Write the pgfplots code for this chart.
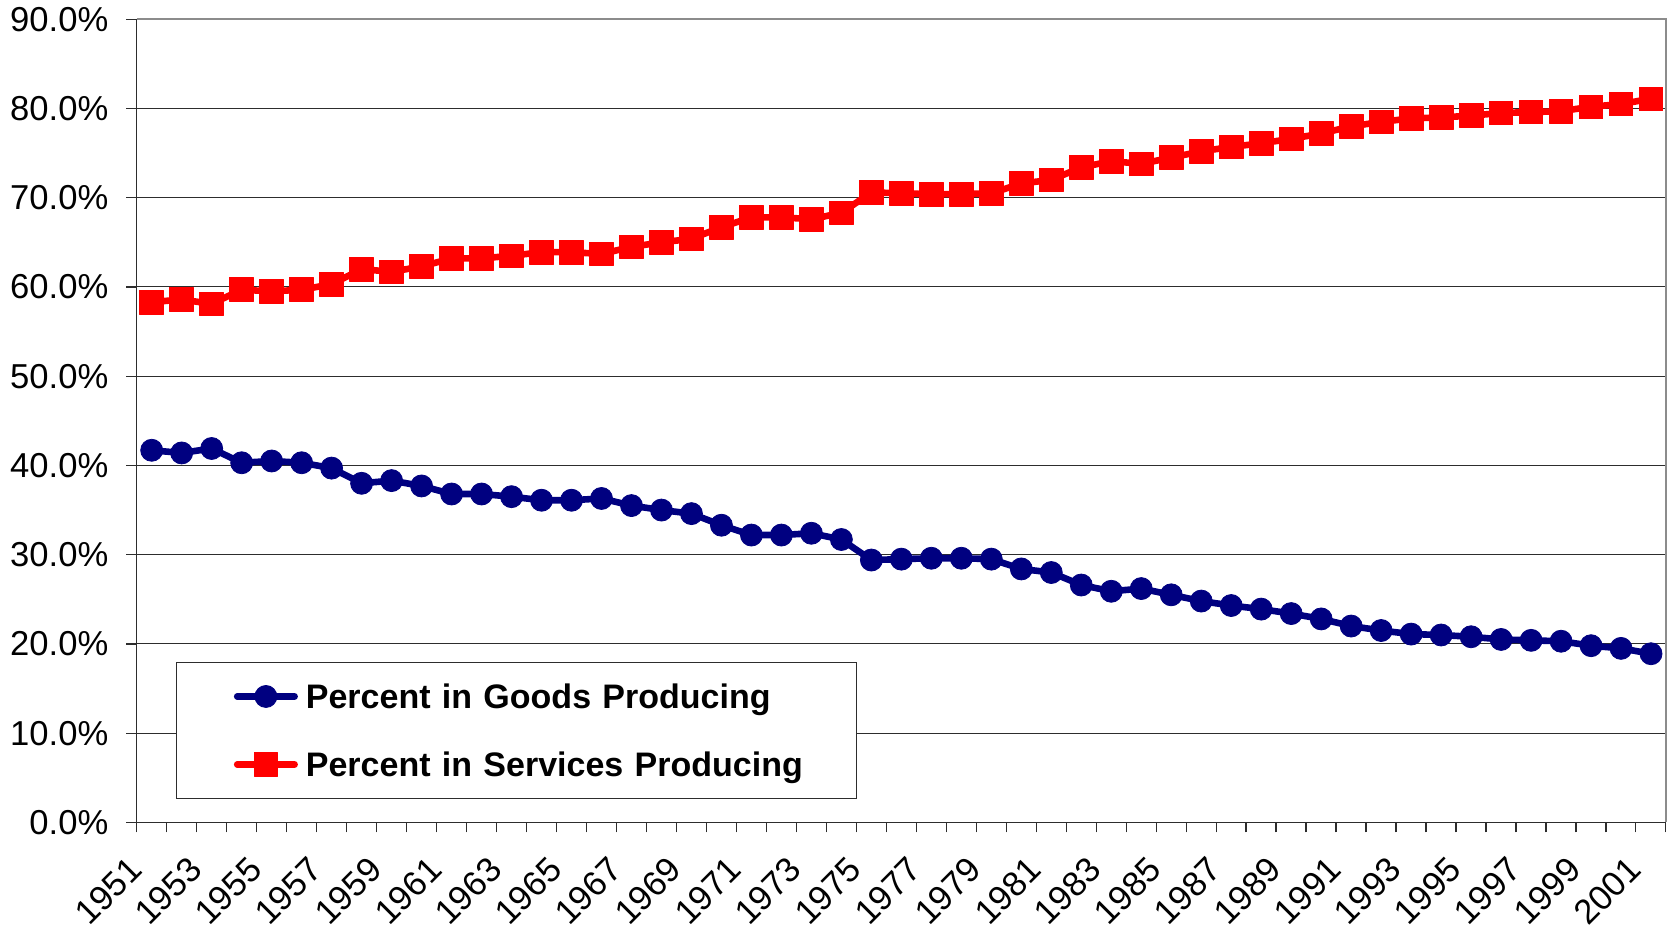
\documentclass[border=0pt]{standalone}
\usepackage{pgfplots}
\usepackage{pgfplotstable}
\pgfplotsset{compat=1.18}
\usepackage{fontspec}
\setmainfont{Liberation Sans}
\definecolor{navyc}{RGB}{0,0,128}
\definecolor{redc}{RGB}{255,0,0}
\definecolor{gridc}{RGB}{45,45,45}
\definecolor{bordc}{RGB}{140,140,140}
\pgfplotstableread{
year goods services
1951 41.7 58.3
1952 41.4 58.6
1953 41.9 58.1
1954 40.3 59.7
1955 40.5 59.5
1956 40.3 59.7
1957 39.7 60.3
1958 38.0 62.0
1959 38.3 61.7
1960 37.7 62.3
1961 36.8 63.2
1962 36.8 63.2
1963 36.5 63.5
1964 36.1 63.9
1965 36.1 63.9
1966 36.3 63.7
1967 35.5 64.5
1968 35.0 65.0
1969 34.6 65.4
1970 33.3 66.7
1971 32.2 67.8
1972 32.2 67.8
1973 32.4 67.6
1974 31.7 68.3
1975 29.4 70.6
1976 29.5 70.5
1977 29.6 70.4
1978 29.6 70.4
1979 29.5 70.5
1980 28.4 71.6
1981 28.0 72.0
1982 26.6 73.4
1983 25.9 74.1
1984 26.2 73.8
1985 25.5 74.5
1986 24.8 75.2
1987 24.3 75.7
1988 23.9 76.1
1989 23.4 76.6
1990 22.8 77.2
1991 22.0 78.0
1992 21.5 78.5
1993 21.1 78.9
1994 21.0 79.0
1995 20.8 79.2
1996 20.5 79.5
1997 20.4 79.6
1998 20.3 79.7
1999 19.8 80.2
2000 19.5 80.5
2001 18.9 81.1
}\datatable
\begin{document}
\begin{tikzpicture}
\begin{axis}[name=ax,
  scale only axis, width=764.65pt, height=401.55pt,
  xmin=1950.5, xmax=2001.5, ymin=0, ymax=90,
  axis x line*=bottom, axis y line*=left,
  axis line style={gridc, line width=0.7pt},
  tick align=outside,
  major tick length=5.3pt, minor tick length=5pt,
  every tick/.style={gridc, line width=0.6pt},
  ytick={0,10,20,30,40,50,60,70,80,90},
  yticklabels={0.0\%,10.0\%,20.0\%,30.0\%,40.0\%,50.0\%,60.0\%,70.0\%,80.0\%,90.0\%},
  ymajorgrids, major grid style={gridc, line width=0.5pt},
  xtick={1951,1953,...,2001},
  xticklabels={1951,1953,1955,1957,1959,1961,1963,1965,1967,1969,1971,1973,1975,1977,1979,1981,1983,1985,1987,1989,1991,1993,1995,1997,1999,2001},
  major x tick style={draw=none},
  minor xtick={1950.5,1951.5,...,2001.5},
  tick label style={font=\fontsize{17.3}{20}\selectfont, text=black},
  yticklabel style={anchor=east, inner sep=0pt, xshift=-8.7pt},
  xticklabel style={inner sep=0pt, xshift=-8pt, yshift=-15.3pt, rotate=45, anchor=east},
  legend style={at={(0,0)}, anchor=south west, xshift=19.5pt, yshift=11.55pt,
    draw=gridc, line width=0.6pt, fill=white, inner xsep=0pt, inner ysep=10.9pt,
    row sep=21.6pt, column sep=4pt,
    font=\bfseries\fontsize{17}{20}\selectfont,
    nodes={inner sep=0pt, text width=275.2pt, text height=12.4pt, text depth=0pt}},
  legend cell align=left,
  legend image code/.code={\path[draw=none,fill=none] (0pt,0pt) -- (28.8pt,0pt);
    \draw[mark repeat=2,mark phase=2,#1] plot coordinates {(30.45pt,0pt) (44.8pt,0pt) (59.15pt,0pt)};
    \path[draw=none,fill=none] (60.8pt,0pt) -- (60.8pt,0.1pt);},
]
\addplot[navyc, line width=3.3pt, line cap=round, line join=round,
  mark=*, mark size=5.5pt, mark options={fill=navyc, draw=navyc, line width=0.4pt}]
  table[x=year, y=goods] {\datatable};
\addlegendentry{Percent in Goods Producing}
\addplot[redc, line width=3.3pt, line cap=round, line join=round,
  mark=square*, mark size=5.9pt, mark options={fill=redc, draw=redc, line width=0.4pt}]
  table[x=year, y=services] {\datatable};
\addlegendentry{Percent in Services Producing}
\end{axis}
\draw[bordc, line width=1pt] (ax.north west) -- (ax.north east) -- (ax.south east);
\pgfresetboundingbox
\path[use as bounding box] ([xshift=-68.35pt,yshift=-58.3pt]ax.south west) rectangle ([xshift=3.5pt,yshift=9.65pt]ax.north east);
\end{tikzpicture}
\end{document}
